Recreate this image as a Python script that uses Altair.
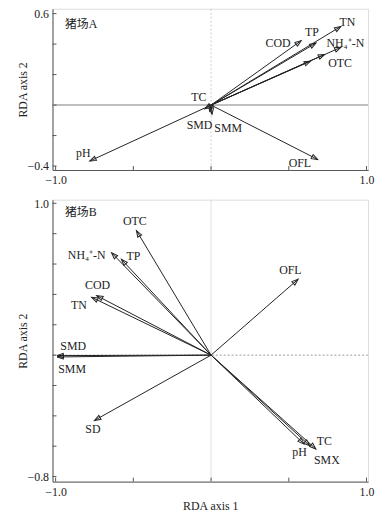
import math
import altair as alt
import pandas as pd

# ---------------- data ----------------
XDOM = [-1.02, 1.01]

# Panel A (猪场A)
A_vars = ["TN", "TP", "COD", "NH4-N", "OTC", "OTC2", "TC", "SMD", "SMM", "pH", "OFL"]
A_x = [0.835, 0.675, 0.58, 0.835, 0.73, 0.64, -0.04, -0.01, 0.006, -0.78, 0.686]
A_y = [0.516, 0.407, 0.423, 0.379, 0.332, 0.288, -0.025, -0.04, -0.06, -0.367, -0.357]
A_lab = ["TN", "TP", "COD", "NH₄⁺-N", "OTC", "TC", "SMD", "SMM", "pH", "OFL"]
A_lab_x = [0.877, 0.648, 0.431, 0.864, 0.83, -0.078, -0.074, 0.11, -0.822, 0.571]
A_lab_y = [0.548, 0.479, 0.407, 0.407, 0.277, 0.05, -0.134, -0.15, -0.316, -0.38]
A_ydom = [-0.426, 0.632]
A_yticks = [-0.4, -0.2, 0.0, 0.2, 0.4, 0.6]
A_ylabels = [-0.4, 0.6]

# Panel B (猪场B)
B_vars = ["OTC", "NH4-N", "TP", "COD", "TN", "OFL", "SMD", "SMM", "SD", "pH", "TC", "SMX"]
B_x = [-0.48, -0.64, -0.577, -0.736, -0.768, 0.56, -0.99, -0.99, -0.75, 0.598, 0.635, 0.674]
B_y = [0.82, 0.674, 0.631, 0.392, 0.381, 0.50, -0.003, -0.012, -0.43, -0.586, -0.597, -0.618]
B_lab = ["OTC", "NH₄⁺-N", "TP", "OFL", "COD", "TN", "SMD", "SMM", "SD", "TC", "pH", "SMX"]
B_lab_x = [-0.49, -0.80, -0.50, 0.51, -0.73, -0.85, -0.887, -0.894, -0.76, 0.729, 0.569, 0.745]
B_lab_y = [0.885, 0.66, 0.65, 0.56, 0.46, 0.33, 0.062, -0.09, -0.49, -0.564, -0.639, -0.694]
B_ydom = [-0.833, 1.024]
B_yticks = [-0.8, -0.6, -0.4, -0.2, 0.0, 0.2, 0.4, 0.6, 0.8, 1.0]
B_ylabels = [-0.8, 1.0]

X_ticks = [-1.0, -0.5, 0.0, 0.5, 1.0]
X_labels = [-1.0, 1.0]

W = 319
A_H = 163
B_H = 285

SERIF = "Liberation Serif"
DARK = "#555555"
INK = "#222222"
HEAD = "M0,0L-0.36,1L0.36,1Z"


def panel(vars_, xs, ys, labs, lxs, lys, ydom, yticks, ylabels, height, name,
          name_y, show_xtitle, hline_dash, hline_color, hline_w, vline_dash, vline_color):
    kx = W / (XDOM[1] - XDOM[0])
    ky = height / (ydom[1] - ydom[0])
    arrows = pd.DataFrame({"var": vars_, "x": xs, "y": ys})
    arrows["angle"] = [
        math.degrees(math.atan2(kx * a, ky * b)) % 360 for a, b in zip(xs, ys)
    ]
    labels = pd.DataFrame({"label": labs, "x": lxs, "y": lys})

    xsc = alt.Scale(domain=XDOM, nice=False, zero=False)
    ysc = alt.Scale(domain=ydom, nice=False, zero=False)

    xaxis = alt.Axis(
        values=X_labels, format=".1f", labelFlush=True, ticks=False, tickSize=0,
        grid=False, domainColor=DARK, domainWidth=1, labelFont=SERIF,
        labelFontSize=12, labelColor=INK, labelPadding=5,
        titleFont=SERIF, titleFontSize=12, titleFontWeight="normal",
        titleColor=INK, titlePadding=3,
    )
    yaxis = alt.Axis(
        values=ylabels, format=".1f", ticks=False, tickSize=0, grid=False,
        domainColor=DARK, domainWidth=1, labelFont=SERIF, labelFontSize=12,
        labelColor=INK, labelPadding=4, titleFont=SERIF, titleFontSize=12,
        titleFontWeight="normal", titleColor=INK, titleBaseline="middle",
        titleX=-30, titleY=height / 2,
    )

    base_x = alt.X("x:Q", scale=xsc, axis=xaxis,
                   title=("RDA axis 1" if show_xtitle else None))
    base_y = alt.Y("y:Q", scale=ysc, axis=yaxis, title="RDA axis 2")

    zero = pd.DataFrame({"v": [0.0]})
    hline = alt.Chart(zero).mark_rule(
        color=hline_color, strokeWidth=hline_w, strokeDash=hline_dash
    ).encode(y=alt.Y("v:Q", scale=ysc))
    vline = alt.Chart(zero).mark_rule(
        color=vline_color, strokeWidth=1, strokeDash=vline_dash
    ).encode(x=alt.X("v:Q", scale=xsc))

    yt = alt.Chart(pd.DataFrame({"t": yticks})).mark_rule(color=DARK).encode(
        y=alt.Y("t:Q", scale=ysc), x=alt.value(0), x2=alt.value(4)
    )
    xt = alt.Chart(pd.DataFrame({"t": X_ticks})).mark_rule(color=DARK).encode(
        x=alt.X("t:Q", scale=xsc), y=alt.value(height), y2=alt.value(height - 4)
    )

    lines = alt.Chart(arrows).mark_rule(color=INK, strokeWidth=1).encode(
        x=base_x, y=base_y, x2=alt.datum(0), y2=alt.datum(0)
    )
    heads = alt.Chart(arrows).mark_point(
        shape=HEAD, filled=False, stroke=INK, strokeWidth=1, size=160, opacity=1
    ).encode(x=alt.X("x:Q", scale=xsc), y=alt.Y("y:Q", scale=ysc),
             angle=alt.Angle("angle:Q", scale=None))

    texts = alt.Chart(labels).mark_text(
        font=SERIF, fontSize=12, color=INK, align="center", baseline="middle"
    ).encode(x=alt.X("x:Q", scale=xsc), y=alt.Y("y:Q", scale=ysc), text="label:N")

    title = alt.Chart(pd.DataFrame({"t": [name], "x": [-0.94], "y": [name_y]})).mark_text(
        font="Liberation Serif, Noto Sans CJK SC", fontSize=12, color=INK,
        align="left", baseline="middle"
    ).encode(x=alt.X("x:Q", scale=xsc), y=alt.Y("y:Q", scale=ysc), text="t:N")

    return alt.layer(hline, vline, yt, xt, lines, heads, texts, title).properties(
        width=W, height=height
    )


pa = panel(A_vars, A_x, A_y, A_lab, A_lab_x, A_lab_y, A_ydom, A_yticks, A_ylabels,
           A_H, "猪场A", 0.53, False, [1, 0], "#aaaaaa", 1.5, [2, 2], "#cccccc")
pb = panel(B_vars, B_x, B_y, B_lab, B_lab_x, B_lab_y, B_ydom, B_yticks, B_ylabels,
           B_H, "猪场B", 0.94, True, [2, 2], "#999999", 1, [1, 0], "#dddddd")

chart = alt.vconcat(pa, pb, spacing=30, bounds="flush").properties(
    padding={"left": 8, "top": -4, "right": 0, "bottom": 0}
).configure_view(stroke="#aaaaaa", strokeWidth=1).configure(background="white")

chart.save("out.html", embed_options={"renderer": "svg", "actions": False})
